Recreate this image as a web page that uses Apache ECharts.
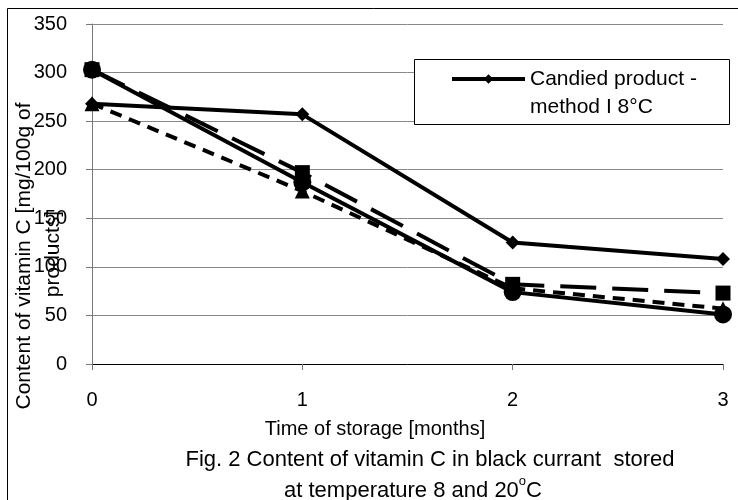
<!DOCTYPE html>
<html>
<head>
<meta charset="utf-8">
<script src="https://cdn.jsdelivr.net/npm/echarts@6/dist/echarts.min.js"></script>
<style>
html,body{margin:0;padding:0;background:#fff;}
#c{width:738px;height:500px;}
</style>
</head>
<body>
<div id="c"></div>
<script>
const categories = ['0', '1', '2', '3'];
const yTicks = [0, 50, 100, 150, 200, 250, 300, 350];
const seriesNames = [
  'Candied product - method I 8°C',
  'Candied product - method I 20°C',
  'Candied product - method II 8°C',
  'Candied product - method II 20°C'
];
const method1at8 = [268, 257, 125, 108];
const method1at20 = [303, 187, 74, 51];
const method2at8 = [303, 197, 82, 73];
const method2at20 = [268, 178, 78, 57];

const FONT = 'Liberation Sans, Arial, sans-serif';

const chart = echarts.init(document.getElementById('c'), null, {renderer: 'canvas'});

function lineSeries(name, data, symbol, size, lineType) {
  return {
    name: name,
    type: 'line',
    data: data,
    symbol: symbol,
    symbolSize: size,
    showAllSymbol: true,
    lineStyle: {color: '#000', width: 4, type: lineType},
    itemStyle: {color: '#000'},
    emphasis: {disabled: true},
    animation: false
  };
}

chart.setOption({
  backgroundColor: '#fff',
  animation: false,
  title: {
    text: '{a|Fig. 2 Content of vitamin C in black currant  stored}\n{b|at temperature 8 and 20}{s|o}{c|C}',
    left: 'center',
    top: 444,
    padding: 0,
    textStyle: {
      fontFamily: FONT,
      fontSize: 22,
      fontWeight: 'normal',
      color: '#000',
      lineHeight: 31,
      rich: {
        a: {fontFamily: FONT, fontSize: 22, color: '#000', lineHeight: 31, padding: [0, 0, 0, 122]},
        b: {fontFamily: FONT, fontSize: 22, color: '#000', lineHeight: 31, padding: [0, 0, 0, 88]},
        s: {fontFamily: FONT, fontSize: 13, color: '#000', verticalAlign: 'top', lineHeight: 31, padding: [0, 0, 8, 0]},
        c: {fontFamily: FONT, fontSize: 22, color: '#000', lineHeight: 31}
      }
    }
  },
  legend: {
    data: [seriesNames[0]],
    left: 450,
    top: 37,
    padding: 0,
    itemWidth: 73,
    itemHeight: 12,
    selectedMode: false,
    lineStyle: {width: 4, color: '#000'},
    itemStyle: {color: '#000'},
    textStyle: {
      fontFamily: FONT,
      fontSize: 21,
      color: '#000',
      lineHeight: 28
    },
    formatter: function () { return '\nCandied product -\nmethod I 8°C'; }
  },
  graphic: [
    {type: 'rect', left: 5, top: 6, shape: {width: 740, height: 500}, style: {fill: 'none', stroke: '#000', lineWidth: 1}, silent: true, z: 1},
    {type: 'rect', left: 414, top: 59, shape: {width: 315, height: 65}, style: {fill: '#fff', stroke: '#000', lineWidth: 1}, silent: true, z: 3},
    {type: 'text', x: 24, y: 256, rotation: Math.PI / 2, silent: true,
     style: {text: 'Content of vitamin C [mg/100g of', font: '21px ' + FONT, fill: '#000', align: 'center', verticalAlign: 'middle'}},
    {type: 'text', x: 53, y: 254, rotation: Math.PI / 2, silent: true,
     style: {text: 'products]', font: '21px ' + FONT, fill: '#000', align: 'center', verticalAlign: 'middle'}}
  ],
  grid: {left: 92, right: 15, top: 24, bottom: 136, containLabel: false},
  xAxis: {
    type: 'category',
    data: categories,
    boundaryGap: false,
    name: 'Time of storage [months]',
    nameLocation: 'middle',
    nameGap: 55,
    nameTextStyle: {fontFamily: FONT, fontSize: 20, color: '#000', padding: [0, 65, 0, 0]},
    axisLine: {lineStyle: {color: '#000', width: 1}},
    axisTick: {show: true, alignWithLabel: true, length: 6, inside: false, lineStyle: {color: '#777'}},
    axisLabel: {fontFamily: FONT, fontSize: 20, color: '#000', margin: 26},
    splitLine: {show: false}
  },
  yAxis: {
    type: 'value',
    min: 0,
    max: 350,
    interval: 50,
    axisLine: {show: true, lineStyle: {color: '#777', width: 1}},
    axisTick: {show: true, length: 6, lineStyle: {color: '#777'}},
    axisLabel: {fontFamily: FONT, fontSize: 20, color: '#000', margin: 25},
    splitLine: {show: true, lineStyle: {color: '#888', width: 1}}
  },
  series: [
    lineSeries(seriesNames[0], method1at8, 'diamond', 14, 'solid'),
    lineSeries(seriesNames[1], method1at20, 'circle', 18, 'solid'),
    lineSeries(seriesNames[2], method2at8, 'rect', 15, [36, 16]),
    lineSeries(seriesNames[3], method2at20, 'triangle', 15, [12, 8])
  ]
});
</script>
</body>
</html>
